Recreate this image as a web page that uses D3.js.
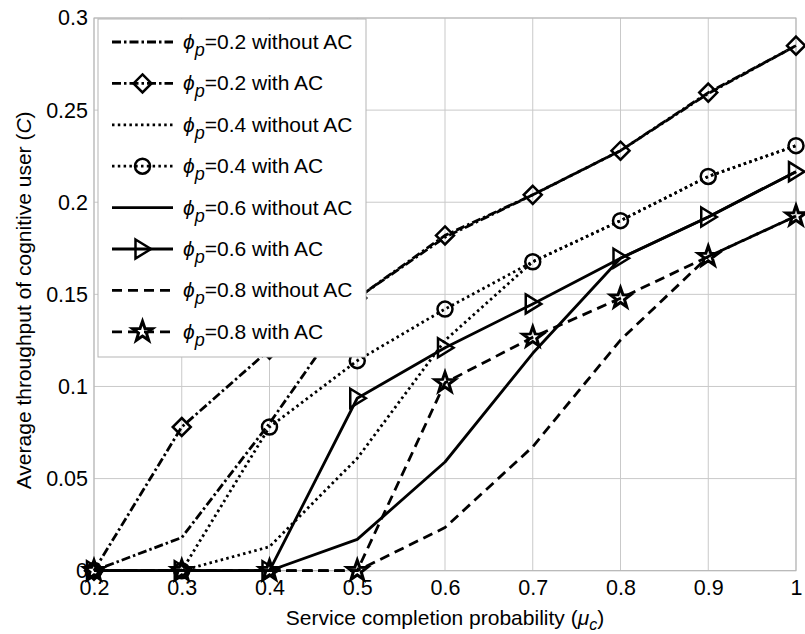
<!DOCTYPE html>
<html>
<head>
<meta charset="utf-8">
<script src="https://cdn.jsdelivr.net/npm/d3@7"></script>
<style>
  html, body { margin: 0; padding: 0; background: #fff; }
  svg { display: block; font-family: "Liberation Sans", Arial, sans-serif; }
</style>
</head>
<body>
<svg id="chart" width="805" height="634"></svg>
<script>
// Service completion probability values (x axis)
const muC = [0.2, 0.3, 0.4, 0.5, 0.6, 0.7, 0.8, 0.9, 1.0];

// Average throughput of the cognitive user, per primary-user activity phi_p
const phi02NoAC = [0, 0.018, 0.080, 0.148, 0.181, 0.204, 0.228, 0.259, 0.285];
const phi02AC   = [0, 0.078, 0.120, 0.148, 0.182, 0.204, 0.228, 0.2595, 0.285];
const phi04NoAC = [0, 0, 0.013, 0.061, 0.125, 0.1677, 0.190, 0.214, 0.2307];
const phi04AC   = [0, 0, 0.078, 0.114, 0.142, 0.1677, 0.190, 0.214, 0.2307];
const phi06NoAC = [0, 0, 0, 0.017, 0.059, 0.118, 0.1696, 0.192, 0.2166];
const phi06AC   = [0, 0, 0, 0.0936, 0.121, 0.1448, 0.1696, 0.192, 0.2166];
const phi08NoAC = [0, 0, 0, 0, 0.0234, 0.0673, 0.1252, 0.1705, 0.1925];
const phi08AC   = [0, 0, 0, 0, 0.102, 0.1267, 0.1479, 0.1705, 0.1925];

// Legend entries
const phiLabels = ["0.2", "0.2", "0.4", "0.4", "0.6", "0.6", "0.8", "0.8"];
const acLabels  = ["without AC", "with AC", "without AC", "with AC",
                   "without AC", "with AC", "without AC", "with AC"];

// Axis ticks
const xTicks = [0.2, 0.3, 0.4, 0.5, 0.6, 0.7, 0.8, 0.9, 1.0];
const xTickLabels = ["0.2", "0.3", "0.4", "0.5", "0.6", "0.7", "0.8", "0.9", "1"];
const yTicks = [0, 0.05, 0.1, 0.15, 0.2, 0.25, 0.3];
const yTickLabels = ["0", "0.05", "0.1", "0.15", "0.2", "0.25", "0.3"];

const seriesValues = [phi02NoAC, phi02AC, phi04NoAC, phi04AC,
                      phi06NoAC, phi06AC, phi08NoAC, phi08AC];

// Line style and marker per series. "pair"/"shift": where a curve merges
// with its partner, its dash phase is moved by "shift" so the two patterns
// interleave (dash-dot and dashed read as one solid stroke, dotted stays dotted).
const DASHDOT = [9, 3, 2.5, 3], DOTTED = [2.5, 3.3], DASHED = [10, 6], SOLID = null;
const styles = [
  { dash: DASHDOT, marker: null,       pair: 1, shift: 8.75 },
  { dash: DASHDOT, marker: "diamond" },
  { dash: DOTTED,  marker: null,       pair: 3, shift: 0 },
  { dash: DOTTED,  marker: "circle" },
  { dash: SOLID,   marker: null },
  { dash: SOLID,   marker: "triangle" },
  { dash: DASHED,  marker: null,       pair: 7, shift: 8 },
  { dash: DASHED,  marker: "star" }
];

const W = 805, H = 634;
const margin = { left: 94, right: 9, top: 18, bottom: 63.3 };
const svg = d3.select("#chart");

const x = d3.scaleLinear().domain([0.2, 1]).range([margin.left, W - margin.right]);
const y = d3.scaleLinear().domain([0, 0.3]).range([H - margin.bottom, margin.top]);

const TICK_FONT = 21.5;
const TITLE_FONT = 21;
const GRID = "#c9c9c9";
const FRAME = "#b5b5b5";

// Grid
const grid = svg.append("g");
grid.selectAll("line.gx").data(xTicks).join("line")
  .attr("x1", d => x(d)).attr("x2", d => x(d))
  .attr("y1", y(0)).attr("y2", y(0.3))
  .attr("stroke", GRID).attr("stroke-width", 1);
grid.selectAll("line.gy").data(yTicks).join("line")
  .attr("x1", x(0.2)).attr("x2", x(1))
  .attr("y1", d => y(d)).attr("y2", d => y(d))
  .attr("stroke", GRID).attr("stroke-width", 1);

// Axes (labels only; the frame is drawn as a box)
const xAxis = svg.append("g")
  .attr("transform", `translate(0,${y(0)})`)
  .call(d3.axisBottom(x).tickValues(xTicks).tickSize(0).tickPadding(9)
    .tickFormat((d, i) => xTickLabels[i]));
const yAxis = svg.append("g")
  .attr("transform", `translate(${x(0.2)},0)`)
  .call(d3.axisLeft(y).tickValues(yTicks).tickSize(0).tickPadding(6)
    .tickFormat((d, i) => yTickLabels[i]));
[xAxis, yAxis].forEach(g => {
  g.select(".domain").remove();
  g.attr("font-size", TICK_FONT).attr("font-family", "Liberation Sans, Arial, sans-serif");
  g.selectAll("text").attr("font-size", TICK_FONT).attr("fill", "#000");
});

svg.append("rect")
  .attr("x", x(0.2)).attr("y", y(0.3))
  .attr("width", x(1) - x(0.2)).attr("height", y(0) - y(0.3))
  .attr("fill", "none").attr("stroke", FRAME).attr("stroke-width", 1);

// Marker shapes
function markerPath(type) {
  switch (type) {
    case "diamond": { const r = 9; return `M0,${-r}L${r},0L0,${r}L${-r},0Z`; }
    case "circle": { const r = 7.5; return `M${r},0A${r},${r} 0 1,1 ${-r},0A${r},${r} 0 1,1 ${r},0Z`; }
    case "triangle": return "M-7,-9.5L8.5,0L-7,9.5Z";
    case "star": {
      const R = 10.5, r = 4.2; let p = "";
      for (let k = 0; k < 10; k++) {
        const rad = k % 2 ? r : R;
        const a = -Math.PI / 2 + k * Math.PI / 5;
        p += (k ? "L" : "M") + (rad * Math.cos(a)).toFixed(2) + "," + (rad * Math.sin(a)).toFixed(2);
      }
      return p + "Z";
    }
  }
  return null;
}
const markerStroke = { diamond: 2.5, circle: 2.5, triangle: 2.5, star: 3 };

const line = d3.line().x((d, i) => x(muC[i])).y(d => y(d));
const LW = 2.8;

// Pixel length of a polyline up to point index k
function lengthTo(vals, k) {
  let L = 0;
  for (let i = 1; i <= k; i++) {
    L += Math.hypot(x(muC[i]) - x(muC[i - 1]), y(vals[i]) - y(vals[i - 1]));
  }
  return L;
}
// First index from which two series share every remaining value
function joinIndex(a, b) {
  let k = a.length - 1;
  while (k > 0 && Math.abs(a[k - 1] - b[k - 1]) < 1e-3) k--;
  return k;
}

const plot = svg.append("g");
seriesValues.forEach((vals, s) => {
  const st = styles[s];
  const g = plot.append("g");
  let offset = 0;
  if (st.dash && st.pair !== undefined) {
    const other = seriesValues[st.pair];
    const k = joinIndex(vals, other);
    offset = lengthTo(other, k) - lengthTo(vals, k) + st.shift;
  }
  g.append("path").attr("d", line(vals))
    .attr("fill", "none").attr("stroke", "#000").attr("stroke-width", LW)
    .attr("stroke-dasharray", st.dash ? st.dash.join(",") : null)
    .attr("stroke-dashoffset", offset)
    .attr("stroke-linejoin", "round");
  if (st.marker) {
    g.selectAll("path.m").data(vals).join("path")
      .attr("class", "m")
      .attr("d", markerPath(st.marker))
      .attr("transform", (d, i) => `translate(${x(muC[i])},${y(d)})`)
      .attr("fill", "none").attr("stroke", "#000")
      .attr("stroke-width", markerStroke[st.marker])
      .attr("stroke-linejoin", "miter");
  }
});

// Legend
const leg = svg.append("g");
const legX = 98, legY = 19, legW = 268, legH = 338;
leg.append("rect").attr("x", legX).attr("y", legY).attr("width", legW).attr("height", legH)
  .attr("fill", "#fff").attr("stroke", FRAME).attr("stroke-width", 1);
const rowY0 = 42, rowStep = 41.4;
styles.forEach((st, i) => {
  const ly = rowY0 + i * rowStep;
  leg.append("line").attr("x1", 112).attr("x2", 173).attr("y1", ly).attr("y2", ly)
    .attr("stroke", "#000").attr("stroke-width", LW)
    .attr("stroke-dasharray", st.dash ? st.dash.join(",") : null);
  if (st.marker) {
    leg.append("path").attr("d", markerPath(st.marker))
      .attr("transform", `translate(142.5,${ly})`)
      .attr("fill", "none").attr("stroke", "#000")
      .attr("stroke-width", markerStroke[st.marker]);
  }
  const t = leg.append("text").attr("x", 183).attr("y", ly + 7)
    .attr("font-size", 21).attr("fill", "#000");
  t.append("tspan").attr("font-style", "italic").text("\u03D5");
  t.append("tspan").attr("font-style", "italic").attr("font-size", 18).attr("dy", 7).text("p");
  t.append("tspan").attr("dy", -7).text("=" + phiLabels[i] + " " + acLabels[i]);
});

// Axis titles
const xt = svg.append("text").attr("x", (x(0.2) + x(1)) / 2).attr("y", 625)
  .attr("text-anchor", "middle").attr("font-size", TITLE_FONT).attr("fill", "#000");
xt.append("tspan").text("Service completion probability (");
xt.append("tspan").attr("font-style", "italic").text("\u03BC");
xt.append("tspan").attr("font-style", "italic").attr("font-size", 16).attr("dy", 5).text("c");
xt.append("tspan").attr("dy", -5).text(")");

const yt = svg.append("text")
  .attr("transform", `translate(31,${(y(0) + y(0.3)) / 2 + 6}) rotate(-90)`)
  .attr("text-anchor", "middle").attr("font-size", TITLE_FONT).attr("fill", "#000");
yt.append("tspan").text("Average throughput of cognitive user (");
yt.append("tspan").attr("font-style", "italic").text("C");
yt.append("tspan").text(")");
</script>
</body>
</html>
